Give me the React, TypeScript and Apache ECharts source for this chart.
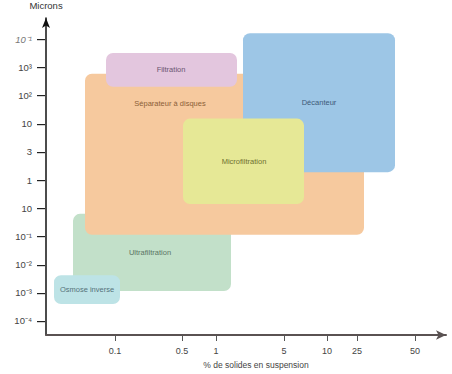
import React, { useEffect, useRef } from "react";
import * as echarts from "echarts";

// Axis tick positions (axis units) and their labels
const xTickPos = [17.25, 34, 42.5, 59.5, 70.25, 77.75, 92.25];
const xTickLabels = ["0.1", "0.5", "1", "5", "10", "25", "50"];
const yTickPos = [0, 1, 2, 3, 4, 5, 6, 7, 8, 9, 10];
const yTickLabels = ["10⁻⁴", "10⁻³", "10⁻²", "10⁻¹", "10", "1", "3", "10", "10²", "10³", "10⁻¹"];

// Regions (drawing order: back to front)
const names = ["Ultrafiltration", "Séparateur à disques", "Filtration", "Décanteur", "Microfiltration", "Osmose inverse"];
const xStart = [6.75, 9.75, 15, 49.25, 34.25, 2];
const xEnd = [46.25, 79.5, 47.75, 87.25, 64.5, 18.5];
const yLow = [1.06, 3.06, 8.31, 5.28, 4.15, 0.6];
const yHigh = [3.8, 8.77, 9.51, 10.21, 7.18, 1.62];
const labelX = [26, 31, 31.25, 68.25, 49.5, 10.25];
const labelY = [2.43, 7.71, 8.91, 7.75, 5.67, 1.1];
const fills = ["#C2E0C9", "#F6C99E", "#E3C6DE", "#9DC6E6", "#E6E896", "#BDE3E6"];
const textColors = ["#5a7565", "#8b6038", "#6b5570", "#3d5a78", "#6e7030", "#55727a"];

const FONT = "'Liberation Sans', Arial, Helvetica, sans-serif";
const X_MIN = 0;
const X_MAX = 100;
const Y_MIN = -0.5;
const Y_MAX = 10.75;

export default function App() {
  const ref = useRef<HTMLDivElement>(null);
  useEffect(() => {
    if (!ref.current) return;
    const chart = echarts.init(ref.current, null, { renderer: "svg" });
    const data = names.map((_, i) => [xStart[i], xEnd[i], yLow[i], yHigh[i], labelX[i], labelY[i]]);
    const xTicks = xTickPos.map((p) => [p]);
    const yTicks = yTickPos.map((p) => [p]);

    chart.setOption({
      animation: false,
      backgroundColor: "#ffffff",
      grid: { left: 46, right: 6, top: 18, bottom: 37, containLabel: false },
      xAxis: {
        type: "value",
        min: X_MIN,
        max: X_MAX,
        splitLine: { show: false },
        axisLine: {
          show: true,
          onZero: false,
          symbol: ["none", "arrow"],
          symbolSize: [7, 10],
          lineStyle: { color: "#5a5252", width: 2 },
        },
        axisTick: { show: false },
        axisLabel: {
          customValues: xTickPos,
          margin: 11,
          fontSize: 9,
          color: "#444",
          fontFamily: FONT,
          formatter: (v: number) => {
            const i = xTickPos.findIndex((p) => Math.abs(p - v) < 1e-6);
            return i >= 0 ? xTickLabels[i] : "";
          },
        },
        name: "% de solides en suspension",
        nameLocation: "middle",
        nameGap: 25,
        nameTextStyle: { fontSize: 8.5, color: "#444", fontFamily: FONT, padding: [0, 0, 0, 20] },
      },
      yAxis: {
        type: "value",
        min: Y_MIN,
        max: Y_MAX,
        splitLine: { show: false },
        axisLine: {
          show: true,
          onZero: false,
          symbol: ["none", "arrow"],
          symbolSize: [6, 10],
          lineStyle: { color: "#111", width: 1.5 },
        },
        axisTick: { show: false },
        axisLabel: {
          customValues: yTickPos,
          margin: 14,
          fontSize: 9.5,
          color: "#444",
          fontFamily: FONT,
          formatter: (v: number) => {
            const i = Math.round(v);
            if (i === 10) return "{it|" + yTickLabels[i] + "}";
            return yTickLabels[i] ?? "";
          },
          rich: { it: { fontStyle: "italic", color: "#777", fontSize: 9.5, fontFamily: FONT } },
        },
        name: "Microns",
        nameLocation: "end",
        nameGap: 8,
        nameTextStyle: { fontSize: 9.5, color: "#333", fontFamily: FONT },
      },
      series: [
        {
          type: "custom",
          clip: false,
          encode: { x: [0, 1, 4], y: [2, 3, 5] },
          data,
          renderItem: (params: any, api: any) => {
            const i = params.dataIndex;
            const tl = api.coord([api.value(0), api.value(3)]);
            const br = api.coord([api.value(1), api.value(2)]);
            const lp = api.coord([api.value(4), api.value(5)]);
            return {
              type: "group",
              children: [
                {
                  type: "rect",
                  shape: { x: tl[0], y: tl[1], width: br[0] - tl[0], height: br[1] - tl[1], r: 7 },
                  style: { fill: fills[i] },
                },
                {
                  type: "text",
                  x: lp[0],
                  y: lp[1],
                  style: {
                    text: names[i],
                    fill: textColors[i],
                    fontSize: 7.5,
                    fontFamily: FONT,
                    align: "center",
                    verticalAlign: "middle",
                  },
                },
              ],
            };
          },
        },
        {
          // x-axis ticks
          type: "custom",
          clip: false,
          silent: true,
          z: 10,
          encode: { x: 0 },
          data: xTicks,
          renderItem: (params: any, api: any) => {
            const c = api.coord([api.value(0), Y_MIN]);
            const x = Math.round(c[0]);
            const y = params.coordSys.y + params.coordSys.height;
            return {
              type: "rect",
              shape: { x: x, y: Math.round(y), width: 1, height: 6 },
              style: { fill: "#555" },
            };
          },
        },
        {
          // y-axis ticks
          type: "custom",
          clip: false,
          silent: true,
          z: 10,
          encode: { y: 0 },
          data: yTicks,
          renderItem: (params: any, api: any) => {
            const c = api.coord([X_MIN, api.value(0)]);
            const x = params.coordSys.x;
            const y = Math.round(c[1]);
            return {
              type: "rect",
              shape: { x: Math.round(x) - 9, y: y, width: 8, height: 1.2 },
              style: { fill: "#222" },
            };
          },
        },
      ],
    });
    return () => chart.dispose();
  }, []);
  return <div ref={ref} style={{ width: 452, height: 374, position: "absolute", left: 0, top: 0 }} />;
}
